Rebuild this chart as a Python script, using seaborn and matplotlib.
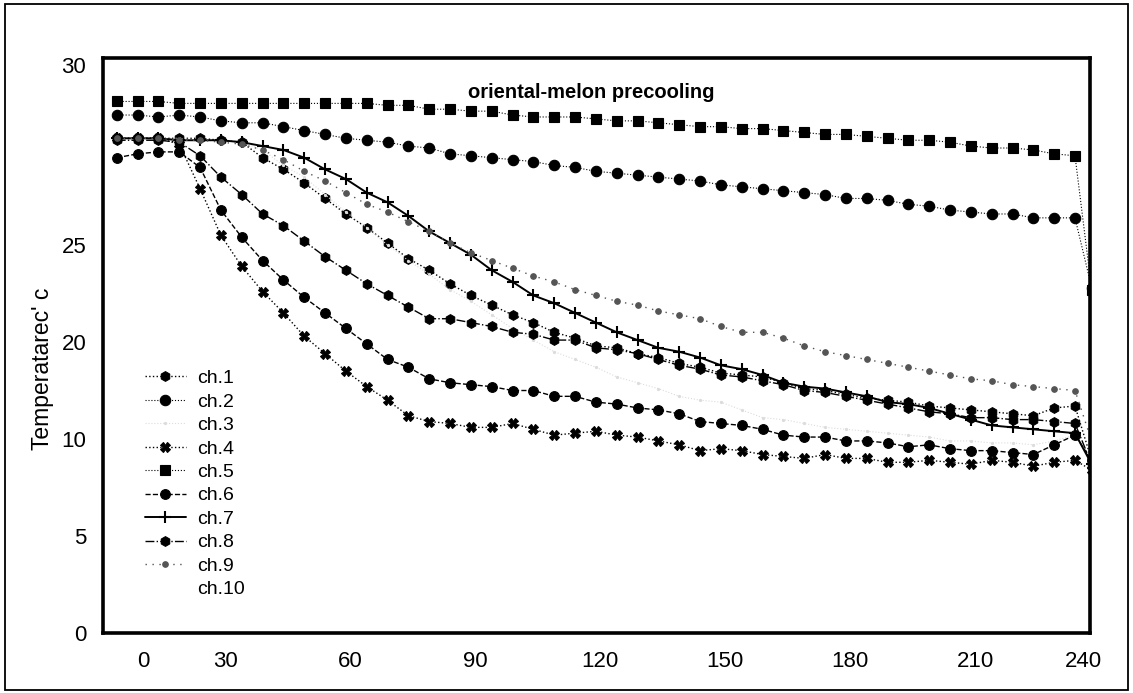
import matplotlib
matplotlib.use("Agg")
import matplotlib.pyplot as plt
from matplotlib import font_manager
from matplotlib.lines import Line2D
from matplotlib.patches import Rectangle
import seaborn as sns
import numpy as np

# ---------------- data (minutes, temperature) ----------------
minutes = [4, 9, 14, 19, 24, 29, 34, 39, 44, 49, 54, 59, 64, 69, 74, 79, 84, 89,
           94, 99, 104, 109, 114, 119, 124, 129, 134, 139, 144, 149, 154, 159,
           164, 169, 174, 179, 184, 189, 194, 199, 204, 209, 214, 219, 224, 229,
           234, 238]

ch1 = [25.5, 25.5, 25.5, 25.5, 25.5, 25.4, 25.3, 24.5, 23.9, 23.2, 22.4, 21.6,
       20.9, 20.1, 19.3, 18.7, 18.0, 17.4, 16.9, 16.4, 16.0, 15.5, 15.2, 14.8,
       14.7, 14.4, 14.2, 13.9, 13.7, 13.4, 13.3, 13.2, 12.9, 12.6, 12.5, 12.3,
       12.1, 12.0, 11.9, 11.7, 11.6, 11.5, 11.4, 11.3, 11.2, 11.6, 11.7, 8.9]
ch2 = [26.7, 26.7, 26.6, 26.7, 26.6, 26.4, 26.3, 26.3, 26.1, 25.9, 25.7, 25.5,
       25.4, 25.3, 25.1, 25.0, 24.7, 24.6, 24.5, 24.4, 24.3, 24.1, 24.0, 23.8,
       23.7, 23.6, 23.5, 23.4, 23.3, 23.1, 23.0, 22.9, 22.8, 22.7, 22.6, 22.4,
       22.4, 22.3, 22.1, 22.0, 21.8, 21.7, 21.6, 21.6, 21.4, 21.4, 21.4, 17.8]
ch3 = [25.5, 25.5, 25.5, 25.5, 25.4, 25.4, 25.3, 24.9, 24.1, 23.5, 22.6, 21.7,
       20.9, 20.0, 19.2, 18.5, 17.7, 17.1, 16.4, 15.7, 15.1, 14.5, 14.1, 13.7,
       13.2, 12.9, 12.6, 12.2, 12.0, 11.9, 11.5, 11.1, 11.0, 10.8, 10.6, 10.5,
       10.4, 10.3, 10.2, 10.1, 9.9, 9.9, 9.8, 9.8, 9.7, 9.9, 10.2, 9.0]
ch4 = [25.5, 25.5, 25.5, 25.2, 22.9, 20.5, 18.9, 17.6, 16.5, 15.3, 14.4, 13.5,
       12.7, 12.0, 11.2, 10.9, 10.8, 10.6, 10.6, 10.8, 10.5, 10.2, 10.3, 10.4,
       10.2, 10.1, 9.9, 9.7, 9.4, 9.5, 9.4, 9.2, 9.1, 9.0, 9.2, 9.0,
       9.0, 8.8, 8.8, 8.9, 8.8, 8.7, 8.9, 8.8, 8.6, 8.8, 8.9, 8.4]
ch5 = [27.4, 27.4, 27.4, 27.3, 27.3, 27.3, 27.3, 27.3, 27.3, 27.3, 27.3, 27.3,
       27.3, 27.2, 27.2, 27.0, 27.0, 26.9, 26.9, 26.7, 26.6, 26.6, 26.6, 26.5,
       26.4, 26.4, 26.3, 26.2, 26.1, 26.1, 26.0, 26.0, 25.9, 25.8, 25.7, 25.7,
       25.6, 25.5, 25.4, 25.4, 25.3, 25.1, 25.0, 25.0, 24.9, 24.7, 24.6, 17.7]
ch6 = [24.5, 24.7, 24.8, 24.8, 24.0, 21.8, 20.4, 19.2, 18.2, 17.3, 16.5, 15.7,
       14.9, 14.1, 13.7, 13.1, 12.9, 12.8, 12.7, 12.5, 12.5, 12.2, 12.2, 11.9,
       11.8, 11.6, 11.5, 11.3, 10.9, 10.8, 10.7, 10.5, 10.2, 10.1, 10.1, 9.9,
       9.9, 9.8, 9.6, 9.7, 9.5, 9.4, 9.4, 9.3, 9.2, 9.7, 10.2, 8.9]
ch7 = [25.5, 25.5, 25.5, 25.4, 25.4, 25.4, 25.3, 25.1, 24.9, 24.5, 23.9, 23.4,
       22.7, 22.2, 21.5, 20.7, 20.1, 19.5, 18.7, 18.1, 17.4, 17.0, 16.5, 16.0,
       15.5, 15.1, 14.7, 14.5, 14.2, 13.8, 13.6, 13.3, 12.9, 12.7, 12.6, 12.4,
       12.2, 11.9, 11.8, 11.6, 11.3, 11.0, 10.7, 10.6, 10.5, 10.4, 10.3, 8.7]
ch8 = [25.4, 25.4, 25.4, 25.3, 24.6, 23.5, 22.6, 21.6, 21.0, 20.2, 19.4, 18.7,
       18.0, 17.4, 16.8, 16.2, 16.2, 16.0, 15.8, 15.5, 15.4, 15.1, 15.1, 14.7,
       14.6, 14.4, 14.1, 13.8, 13.6, 13.3, 13.2, 13.0, 12.8, 12.5, 12.4, 12.2,
       12.0, 11.8, 11.6, 11.4, 11.3, 11.1, 11.1, 11.0, 11.0, 10.9, 10.8, 8.7]
ch9 = [25.5, 25.5, 25.5, 25.4, 25.4, 25.3, 25.2, 24.9, 24.4, 23.8, 23.3, 22.7,
       22.1, 21.7, 21.2, 20.7, 20.1, 19.6, 19.2, 18.8, 18.4, 18.1, 17.7, 17.4,
       17.1, 16.9, 16.6, 16.4, 16.2, 15.8, 15.5, 15.5, 15.2, 14.8, 14.5, 14.3,
       14.1, 13.9, 13.7, 13.5, 13.3, 13.1, 13.0, 12.8, 12.7, 12.6, 12.5, 9.9]

labels = ["ch.1", "ch.2", "ch.3", "ch.4", "ch.5", "ch.6", "ch.7", "ch.8", "ch.9", "ch.10"]

x_ticks = [30, 60, 90, 120, 150, 180, 210]
x_tick_labels = ["30", "60", "90", "120", "150", "180", "210"]
x_edge_pos = [10.3, 236.0]
x_edge_labels = ["0", "240"]
y_ticks = [5, 10, 15, 20]
y_tick_labels = ["5", "10", "20", "25"]
y_edge_pos = [0.0, 29.3]
y_edge_labels = ["0", "30"]

title = "oriental-melon precooling"
ylabel = "Temperatarec' c"

# ---------------- styling ----------------
sns.set_theme(style="white")
names = {f.name for f in font_manager.fontManager.ttflist}
if "Liberation Sans Narrow" in names:
    narrow = "Liberation Sans Narrow"
    fs_tick, fs_leg, fs_title, fs_lab = 18, 16, 17, 18
else:
    narrow = "Liberation Sans"
    fs_tick, fs_leg, fs_title, fs_lab = 16, 14, 14.5, 16.5
plt.rcParams["font.family"] = [narrow, "DejaVu Sans"]

fig = plt.figure(figsize=(11.33, 6.93), dpi=100)
ax = fig.add_axes([103 / 1133, 1 - 633 / 693, (1090 - 103) / 1133, (633 - 58) / 693])

styles = [
    dict(ls=":", marker="h", ms=7, lw=1.0, color="black"),          # ch1
    dict(ls=":", marker="o", ms=7.5, lw=0.8, color="black"),        # ch2
    dict(ls=":", marker=".", ms=3, lw=0.8, color="#dcdcdc"),        # ch3
    dict(ls=":", marker="X", ms=7, lw=1.0, color="black"),          # ch4
    dict(ls=":", marker="s", ms=6.5, lw=0.8, color="black"),        # ch5
    dict(ls="--", marker="o", ms=7, lw=1.0, color="black"),         # ch6
    dict(ls="-", marker="+", ms=9, lw=1.4, color="black", mew=1.5), # ch7
    dict(ls="-.", marker="h", ms=7, lw=1.0, color="black"),         # ch8
    dict(ls=(0, (1, 4)), marker="o", ms=4, lw=1.0, color="#555555"),# ch9
]
series = [ch1, ch2, ch3, ch4, ch5, ch6, ch7, ch8, ch9]

handles = []
for vals, st, lab in zip(series, styles, labels):
    sns.lineplot(x=minutes, y=vals, ax=ax, sort=False, estimator=None,
                 color=st["color"], linestyle=st["ls"], linewidth=st["lw"],
                 marker=st["marker"], markersize=st["ms"],
                 markeredgewidth=st.get("mew", 0.8), markeredgecolor=st["color"],
                 legend=False)
    handles.append(Line2D([], [], color=st["color"], linestyle=st["ls"],
                          linewidth=st["lw"], marker=st["marker"],
                          markersize=st["ms"], markeredgewidth=st.get("mew", 0.8)))
handles.append(Line2D([], [], color="white", alpha=0))  # ch.10 (not visible)

ax.set_xlim(0.7, 237.6)
ax.set_ylim(0, 29.64)

ax.set_xticks(x_ticks)
ax.set_xticklabels(x_tick_labels, fontsize=fs_tick)
ax.set_xticks(x_edge_pos, minor=True)
ax.set_xticklabels(x_edge_labels, minor=True, fontsize=fs_tick)
ax.set_yticks(y_ticks)
ax.set_yticklabels(y_tick_labels, fontsize=fs_tick)
ax.set_yticks(y_edge_pos, minor=True)
ax.set_yticklabels(y_edge_labels, minor=True, fontsize=fs_tick)

ax.tick_params(axis="both", which="major", direction="in", length=10, width=1.6,
               color="black", labelcolor="black")
ax.tick_params(axis="x", which="both", pad=13)
ax.tick_params(axis="y", which="both", pad=12)
ax.tick_params(axis="both", which="minor", length=0, labelcolor="black")
for lab in ax.get_xticklabels(minor=True) + ax.get_yticklabels(minor=True):
    lab.set_fontsize(fs_tick)

for sp in ax.spines.values():
    sp.set_visible(True)
    sp.set_color("black")
    sp.set_linewidth(2.6)

ax.set_ylabel(ylabel, fontsize=fs_lab, color="black")
ax.yaxis.set_label_coords(-0.05, 0.46)

ax.text(0.495, 0.94, title, transform=ax.transAxes, ha="center", va="center",
        fontsize=fs_title, fontweight="bold", color="black")

leg = ax.legend(handles, labels, loc="upper left", bbox_to_anchor=(0.0426, 0.458),
                frameon=False, fontsize=fs_leg, handlelength=2.1, handletextpad=0.6,
                labelspacing=0.3, borderpad=0, borderaxespad=0)
for t in leg.get_texts():
    t.set_color("black")

fig.patches.append(Rectangle((5 / 1133, 3 / 693), 1123 / 1133, 686 / 693,
                             transform=fig.transFigure, fill=False,
                             edgecolor="black", linewidth=1.3))

fig.savefig("out.png", dpi=100, facecolor="white")
